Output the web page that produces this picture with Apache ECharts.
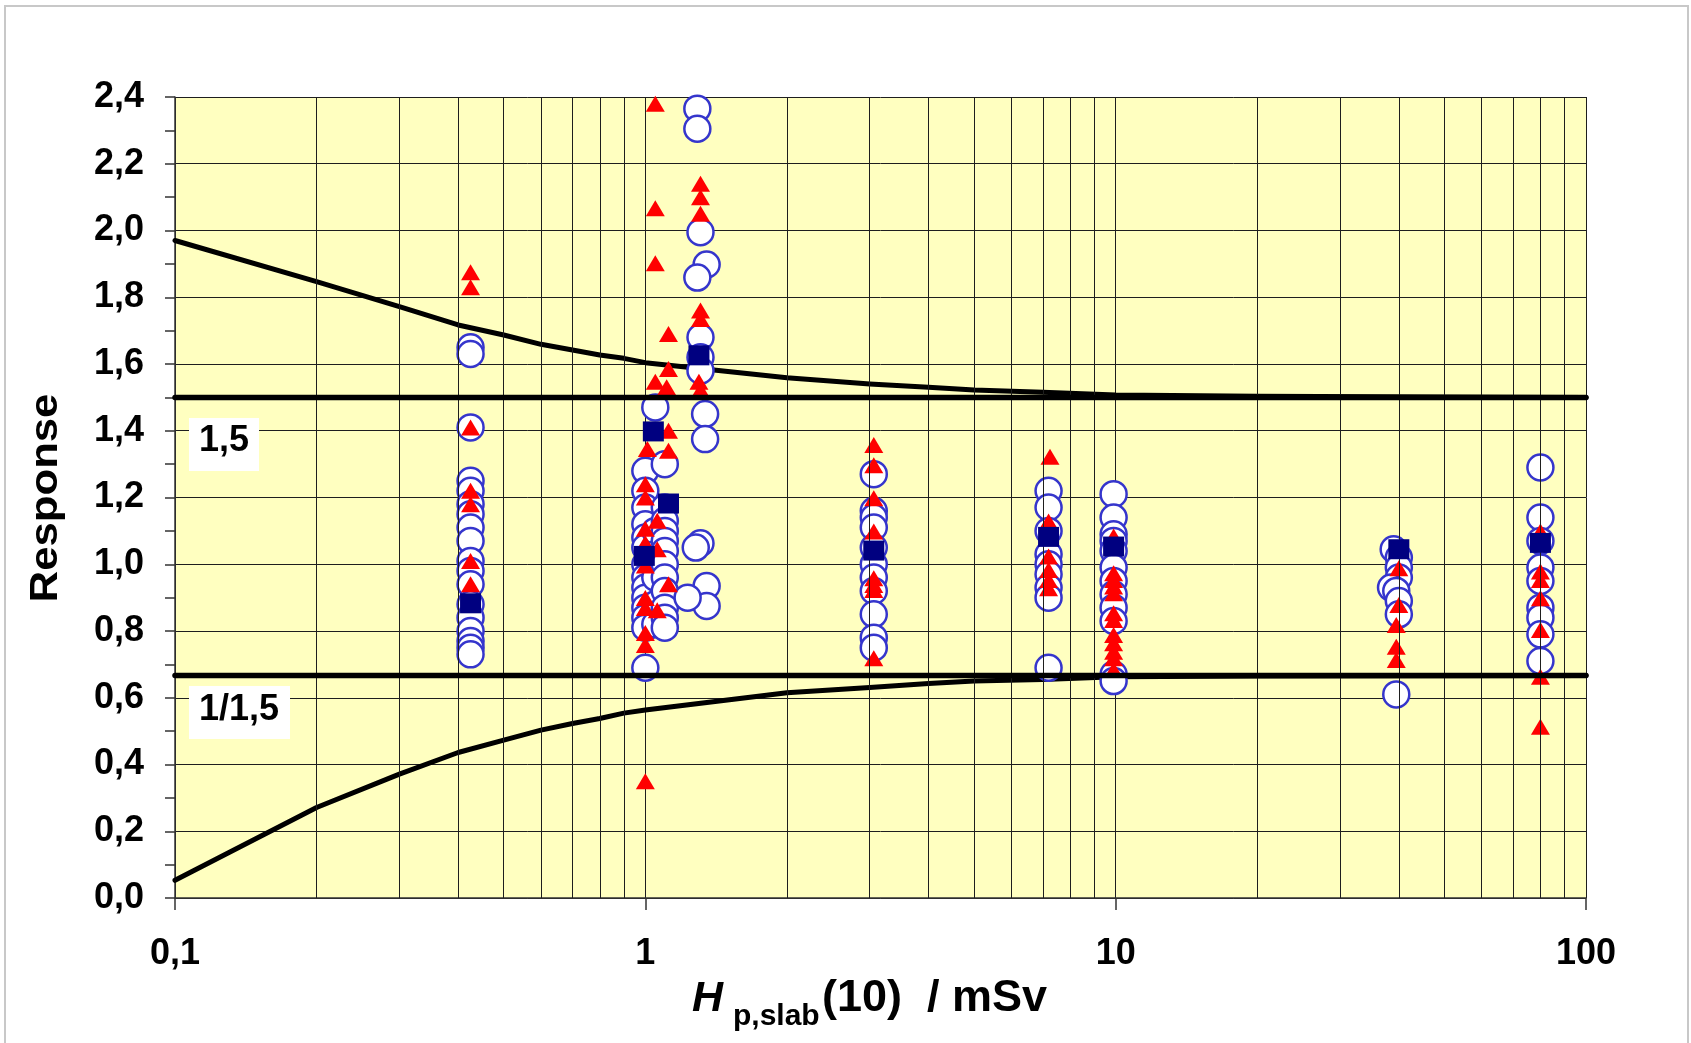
<!DOCTYPE html>
<html>
<head>
<meta charset="utf-8">
<script src="https://cdn.jsdelivr.net/npm/echarts@6/dist/echarts.min.js"></script>
<style>
html,body{margin:0;padding:0;background:#fff;}
#chart{width:1691px;height:1043px;}
</style>
</head>
<body>
<div id="chart"></div>
<script>
// ---------------- DATA ----------------
const xTickLabels = {0.1: '0,1', 1: '1', 10: '10', 100: '100'};
const minorGridX = [0.2,0.3,0.4,0.5,0.6,0.7,0.8,0.9, 2,3,4,5,6,7,8,9, 20,30,40,50,60,70,80,90];

const curveX      = [0.1,0.2,0.3,0.4,0.5,0.6,0.7,0.8,0.9,1,2,3,4,5,7,10,20,50,100];
const upperCurveY = [1.970,1.847,1.772,1.717,1.687,1.659,1.642,1.627,1.617,1.604,1.559,1.540,1.530,1.522,1.515,1.507,1.503,1.501,1.500];
const lowerCurveY = [0.053,0.271,0.371,0.436,0.473,0.503,0.523,0.538,0.554,0.563,0.615,0.631,0.643,0.650,0.655,0.663,0.665,0.666,0.667];

const limitX = [0.1, 100];
const upperLimit = 1.5;
const lowerLimit = 0.667;

// individual values (open circles)
const circlePoints = [
  [0.425,1.65],[0.425,1.63],[0.425,1.41],[0.425,1.25],[0.425,1.22],[0.425,1.18],[0.425,1.15],[0.425,1.11],
  [0.425,1.07],[0.425,1.01],[0.425,0.98],[0.425,0.94],[0.425,0.88],[0.425,0.84],[0.425,0.80],[0.425,0.77],
  [0.425,0.75],[0.425,0.73],
  [1.0,1.28],[1.0,1.22],[1.0,1.17],[1.0,1.12],[1.0,1.08],[1.0,1.05],[1.0,1.00],[1.0,0.96],[1.0,0.93],
  [1.0,0.90],[1.0,0.87],[1.0,0.84],[1.0,0.81],[1.0,0.69],
  [1.05,1.47],[1.05,1.10],[1.05,1.03],[1.05,0.96],[1.05,0.88],[1.05,0.82],
  [1.1,1.30],[1.1,1.17],[1.1,1.13],[1.1,1.10],[1.1,1.07],[1.1,1.04],[1.1,1.00],[1.1,0.96],[1.1,0.92],
  [1.1,0.87],[1.1,0.84],[1.1,0.81],
  [1.29,2.365],[1.29,2.305],[1.31,1.995],[1.35,1.898],[1.29,1.859],[1.31,1.68],[1.31,1.62],[1.31,1.58],
  [1.34,1.45],[1.34,1.375],[1.31,1.063],[1.28,1.05],[1.35,0.935],[1.35,0.875],[1.23,0.90],
  [3.06,1.27],[3.06,1.16],[3.06,1.14],[3.06,1.11],[3.06,1.05],[3.06,1.00],[3.06,0.96],[3.06,0.92],
  [3.06,0.85],[3.06,0.78],[3.06,0.75],
  [7.2,1.22],[7.2,1.17],[7.2,1.10],[7.2,1.03],[7.2,1.00],[7.2,0.97],[7.2,0.93],[7.2,0.90],[7.2,0.69],
  [9.9,1.21],[9.9,1.14],[9.9,1.09],[9.9,1.07],[9.9,1.04],[9.9,0.99],[9.9,0.95],[9.9,0.91],[9.9,0.87],
  [9.9,0.83],[9.9,0.67],[9.9,0.65],
  [39,1.045],[40,1.02],[40,0.99],[40,0.96],[38.5,0.93],[39.5,0.92],[40,0.89],[40,0.85],[39.5,0.61],
  [80,1.29],[80,1.14],[80,1.07],[80,0.99],[80,0.95],[80,0.87],[80,0.84],[80,0.79],[80,0.71]
];

// individual values (red triangles)
const trianglePoints = [
  [0.425,1.875],[0.425,1.83],[0.425,1.41],[0.425,1.22],[0.425,1.18],[0.425,1.01],[0.425,0.94],
  [1.05,2.38],[1.05,2.067],[1.05,1.902],[1.12,1.69],[1.12,1.585],[1.05,1.547],[1.11,1.53],[1.12,1.40],
  [1.01,1.345],[1.12,1.34],[1.0,1.24],[1.0,1.20],[1.06,1.13],[1.0,1.106],[1.0,1.063],[1.06,1.045],
  [1.0,0.996],[1.12,0.94],[1.0,0.899],[1.0,0.869],[1.06,0.862],[1.0,0.794],[1.0,0.758],[1.0,0.35],
  [1.31,2.14],[1.31,2.10],[1.31,2.05],[1.31,1.76],[1.31,1.735],[1.30,1.547],[1.31,1.522],
  [3.06,1.357],[3.06,1.297],[3.06,1.198],[3.06,1.098],[3.06,0.958],[3.06,0.938],[3.06,0.923],[3.06,0.718],
  [7.25,1.322],[7.2,1.128],[7.2,1.023],[7.2,0.983],[7.2,0.953],[7.2,0.928],
  [9.9,1.083],[9.9,0.973],[9.9,0.953],[9.9,0.933],[9.9,0.913],[9.9,0.853],[9.9,0.833],[9.9,0.788],
  [9.9,0.763],[9.9,0.738],[9.9,0.718],[9.9,0.683],
  [40,0.988],[40,0.878],[39.5,0.818],[39.5,0.753],[39.5,0.713],
  [80,1.098],[80,0.978],[80,0.953],[80,0.898],[80,0.803],[80,0.663],[80,0.513]
];

// mean values (navy squares)
const squarePoints = [
  [0.425,0.883],[1.04,1.398],[1.12,1.182],[0.995,1.025],[1.30,1.626],
  [3.06,1.041],[7.2,1.082],[9.9,1.053],[40,1.045],[80,1.064]
];

// ---------------- CHART ----------------
const FONT = '"Liberation Sans", Arial, sans-serif';
const GRIDC = '#1e1e1e';
const chart = echarts.init(document.getElementById('chart'), null, {renderer: 'canvas'});

const zip = (xs, ys) => xs.map((x, i) => [x, ys[i]]);

chart.setOption({
  backgroundColor: '#ffffff',
  animation: false,
  grid: {left: 175, top: 97, width: 1411, height: 801, show: true,
         backgroundColor: '#FFFFC0', borderColor: '#333', borderWidth: 0},
  xAxis: {
    type: 'log', logBase: 10, min: 0.1, max: 100,
    axisLine: {show: true, lineStyle: {color: '#333', width: 1.5}},
    axisTick: {show: true, inside: false, length: 12, lineStyle: {color: '#333', width: 1.5}},
    axisLabel: {
      margin: 38, color: '#000', fontFamily: FONT, fontWeight: 'bold', fontSize: 36,
      formatter: v => { const k = Math.round(Math.log10(v)); return xTickLabels[Math.pow(10, k).toFixed(k < 0 ? 1 : 0)] || String(v); }
    },
    splitLine: {show: true, lineStyle: {color: GRIDC, width: 1}},
    minorTick: {show: false}, minorSplitLine: {show: false}
  },
  yAxis: {
    type: 'value', min: 0, max: 2.4, interval: 0.2,
    axisLine: {show: true, lineStyle: {color: '#333', width: 1.5}},
    axisTick: {show: true, inside: false, length: 10, lineStyle: {color: '#333', width: 1.5}},
    minorTick: {show: true, splitNumber: 2, length: 10, lineStyle: {color: '#333', width: 1.5}},
    axisLabel: {
      margin: 31, color: '#000', fontFamily: FONT, fontWeight: 'bold', fontSize: 36,
      formatter: v => v.toFixed(1).replace('.', ',')
    },
    splitLine: {show: true, lineStyle: {color: GRIDC, width: 1}}
  },
  series: [
    {
      name: 'grid', type: 'line', z: 1, data: [[0.1, 0]], symbol: 'none',
      lineStyle: {opacity: 0}, silent: true,
      markLine: {
        silent: true, symbol: ['none', 'none'], label: {show: false},
        lineStyle: {color: GRIDC, width: 1, type: 'solid'},
        emphasis: {disabled: true},
        data: minorGridX.map(v => ({xAxis: v}))
      }
    },
    {name: 'upper curve', type: 'line', z: 2, data: zip(curveX, upperCurveY), symbol: 'none',
     lineStyle: {color: '#000', width: 5, cap: 'round', join: 'round'}, silent: true},
    {name: 'lower curve', type: 'line', z: 2, data: zip(curveX, lowerCurveY), symbol: 'none',
     lineStyle: {color: '#000', width: 5, cap: 'round', join: 'round'}, silent: true},
    {name: 'single', type: 'scatter', z: 3, data: circlePoints, symbol: 'circle', symbolSize: 26,
     itemStyle: {color: '#FFFFFF', borderColor: '#3535CC', borderWidth: 2.5, opacity: 1}},
    {name: 'single2', type: 'scatter', z: 4, data: trianglePoints, symbol: 'triangle', symbolSize: [19, 16],
     itemStyle: {color: '#FF0000', opacity: 1}},
    {name: 'mean', type: 'scatter', z: 5, data: squarePoints, symbol: 'rect', symbolSize: [21, 20],
     itemStyle: {color: '#000080', opacity: 1}},
    {name: 'limit 1.5', type: 'line', z: 6, data: limitX.map(x => [x, upperLimit]), symbol: 'none',
     lineStyle: {color: '#000', width: 5.5, cap: 'round'}, silent: true},
    {name: 'limit 1/1.5', type: 'line', z: 6, data: limitX.map(x => [x, lowerLimit]), symbol: 'none',
     lineStyle: {color: '#000', width: 5.5, cap: 'round'}, silent: true}
  ],
  graphic: [
    {type: 'rect', z: 0, silent: true, shape: {x: 5, y: 6, width: 1683, height: 1100},
     style: {fill: 'none', stroke: '#C8C8C8', lineWidth: 2}},
    {type: 'rect', z: 100, shape: {x: 189, y: 418, width: 70, height: 53}, style: {fill: '#fff'}},
    {type: 'text', z: 101, x: 224, y: 441, style: {text: '1,5', font: 'bold 36px ' + FONT, fill: '#000', align: 'center', verticalAlign: 'middle'}},
    {type: 'rect', z: 100, shape: {x: 189, y: 686, width: 101, height: 53}, style: {fill: '#fff'}},
    {type: 'text', z: 101, x: 239, y: 710, style: {text: '1/1,5', font: 'bold 36px ' + FONT, fill: '#000', align: 'center', verticalAlign: 'middle'}},
    {type: 'text', z: 101, x: 47, y: 498, rotation: Math.PI / 2, scaleX: 1.15,
     style: {text: 'Response', font: 'bold 38px ' + FONT, fill: '#000', align: 'center', verticalAlign: 'middle'}},
    {type: 'text', z: 101, x: 692, y: 999, style: {text: 'H', font: 'italic bold 43px ' + FONT, fill: '#000', align: 'left', verticalAlign: 'middle'}},
    {type: 'text', z: 101, x: 733, y: 1017, style: {text: 'p,slab', font: 'bold 30px ' + FONT, fill: '#000', align: 'left', verticalAlign: 'middle'}},
    {type: 'text', z: 101, x: 822, y: 999, style: {text: '(10)  / mSv', font: 'bold 45px ' + FONT, fill: '#000', align: 'left', verticalAlign: 'middle'}}
  ]
});
</script>
</body>
</html>
